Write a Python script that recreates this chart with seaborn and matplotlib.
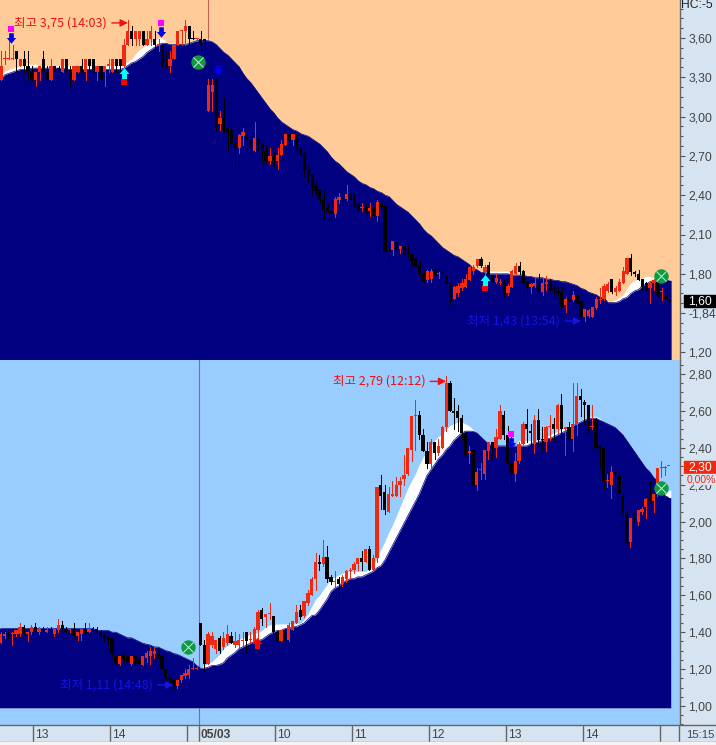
import matplotlib
matplotlib.use("Agg")
import matplotlib.pyplot as plt
from matplotlib.patches import Rectangle
from matplotlib.path import Path
from matplotlib.ticker import MultipleLocator, FixedLocator, FixedFormatter
from matplotlib.transforms import ScaledTranslation
import numpy as np
import pandas as pd
import seaborn as sns

# upper chart, 3 minute candles
up_open = [3.28,3.44,3.44,3.44,3.50,3.39,3.44,3.39,3.34,3.28,
    3.34,3.44,3.34,3.28,3.39,3.37,3.34,3.44,3.34,3.28,
    3.34,3.39,3.34,3.44,3.44,3.34,3.39,3.34,3.39,3.34,
    3.44,3.44,3.39,3.55,3.65,3.59,3.59,3.65,3.55,3.59,
    3.59,3.55,3.55,3.40,3.39,3.44,3.55,3.65,3.65,3.69,
    3.60,3.59,3.59,3.59,3.04,3.19,3.29,2.94,2.99,2.91,
    2.90,2.80,2.76,2.85,2.86,2.82,2.74,2.83,2.80,2.74,
    2.66,2.70,2.66,2.71,2.78,2.87,2.82,2.87,2.76,2.72,
    2.59,2.56,2.47,2.44,2.36,2.30,2.28,2.26,2.36,2.39,
    2.37,2.42,2.37,2.33,2.30,2.31,2.28,2.31,2.24,2.34,
    2.32,1.98,1.98,2.04,1.99,2.01,1.96,1.95,1.92,1.86,
    1.80,1.75,1.76,1.83,1.80,1.81,1.79,1.73,1.61,1.65,
    1.69,1.70,1.75,1.82,1.86,1.91,1.81,1.87,1.79,1.74,
    1.73,1.73,1.65,1.70,1.80,1.86,1.82,1.74,1.70,1.71,
    1.73,1.66,1.72,1.74,1.69,1.67,1.66,1.56,1.61,1.60,
    1.64,1.59,1.47,1.48,1.47,1.54,1.60,1.61,1.67,1.76,
    1.66,1.67,1.73,1.80,1.92,1.81,1.80,1.76,1.73,1.69,
    1.73,1.74,1.66,1.63,1.60]
up_high = [3.50,3.50,3.59,3.55,3.50,3.44,3.50,3.50,3.39,3.34,
    3.39,3.50,3.39,3.44,3.39,3.39,3.44,3.44,3.39,3.39,
    3.39,3.44,3.44,3.44,3.44,3.39,3.39,3.39,3.44,3.44,
    3.44,3.44,3.59,3.74,3.69,3.65,3.65,3.65,3.65,3.69,
    3.65,3.59,3.55,3.50,3.50,3.55,3.65,3.65,3.74,3.69,
    3.65,3.59,3.65,3.59,3.29,3.29,3.29,3.04,3.14,2.91,
    2.91,2.84,2.87,2.91,2.92,2.85,2.96,2.84,2.80,2.78,
    2.76,2.74,2.76,2.82,2.87,2.87,2.87,2.87,2.76,2.73,
    2.63,2.56,2.50,2.44,2.43,2.34,2.28,2.39,2.42,2.40,
    2.48,2.42,2.41,2.33,2.34,2.34,2.34,2.31,2.36,2.37,
    2.32,2.03,2.05,2.04,2.01,2.01,2.01,1.95,1.92,1.90,
    1.81,1.83,1.84,1.85,1.81,1.82,1.80,1.73,1.71,1.73,
    1.76,1.80,1.86,1.87,1.91,1.93,1.87,1.89,1.79,1.80,
    1.76,1.75,1.72,1.83,1.88,1.89,1.83,1.74,1.73,1.77,
    1.80,1.77,1.78,1.76,1.71,1.70,1.70,1.62,1.69,1.67,
    1.65,1.59,1.53,1.53,1.55,1.62,1.69,1.72,1.74,1.76,
    1.71,1.76,1.85,1.92,1.95,1.82,1.83,1.76,1.74,1.74,
    1.76,1.77,1.69,1.68,1.60]
up_low = [3.28,3.40,3.44,3.44,3.34,3.39,3.34,3.28,3.28,3.23,
    3.28,3.28,3.28,3.28,3.34,3.34,3.34,3.34,3.23,3.28,
    3.34,3.34,3.28,3.34,3.34,3.28,3.28,3.23,3.34,3.34,
    3.34,3.34,3.39,3.55,3.55,3.55,3.55,3.55,3.55,3.55,
    3.50,3.50,3.39,3.39,3.34,3.44,3.55,3.55,3.55,3.55,
    3.59,3.58,3.50,3.50,3.04,3.04,2.89,2.90,2.88,2.74,
    2.79,2.63,2.72,2.78,2.78,2.72,2.74,2.74,2.65,2.65,
    2.64,2.62,2.60,2.71,2.78,2.78,2.78,2.71,2.69,2.55,
    2.50,2.41,2.41,2.34,2.22,2.27,2.20,2.23,2.34,2.33,
    2.36,2.36,2.31,2.28,2.28,2.26,2.24,2.24,2.20,2.30,
    1.97,1.92,1.94,1.97,1.96,1.95,1.93,1.86,1.86,1.78,
    1.73,1.74,1.74,1.76,1.77,1.79,1.72,1.57,1.61,1.63,
    1.68,1.70,1.75,1.80,1.85,1.85,1.78,1.79,1.74,1.73,
    1.72,1.62,1.64,1.70,1.80,1.80,1.73,1.65,1.65,1.70,
    1.64,1.64,1.68,1.67,1.64,1.63,1.55,1.51,1.59,1.59,
    1.58,1.43,1.44,1.47,1.47,1.53,1.58,1.60,1.66,1.65,
    1.64,1.67,1.73,1.80,1.79,1.78,1.75,1.67,1.67,1.58,
    1.68,1.62,1.60,1.61,1.58]
up_close = [3.39,3.44,3.44,3.44,3.44,3.44,3.39,3.34,3.28,3.34,
    3.39,3.34,3.28,3.39,3.34,3.36,3.44,3.34,3.28,3.39,
    3.39,3.34,3.44,3.39,3.34,3.39,3.28,3.39,3.39,3.44,
    3.39,3.39,3.55,3.65,3.59,3.65,3.65,3.55,3.59,3.65,
    3.55,3.55,3.39,3.39,3.44,3.55,3.65,3.65,3.69,3.59,
    3.59,3.59,3.55,3.58,3.24,3.24,2.91,2.99,2.90,2.88,
    2.80,2.76,2.86,2.88,2.82,2.75,2.84,2.80,2.74,2.66,
    2.70,2.66,2.71,2.79,2.87,2.82,2.87,2.75,2.71,2.59,
    2.55,2.46,2.43,2.36,2.29,2.28,2.26,2.37,2.39,2.37,
    2.41,2.36,2.31,2.29,2.30,2.29,2.30,2.24,2.35,2.31,
    1.97,1.97,2.05,1.98,2.01,1.95,1.94,1.90,1.86,1.80,
    1.74,1.82,1.82,1.79,1.80,1.80,1.72,1.59,1.70,1.71,
    1.73,1.76,1.85,1.85,1.91,1.86,1.85,1.79,1.74,1.77,
    1.74,1.64,1.71,1.82,1.86,1.81,1.73,1.70,1.72,1.73,
    1.67,1.73,1.74,1.68,1.68,1.65,1.55,1.61,1.59,1.64,
    1.58,1.47,1.53,1.52,1.55,1.61,1.61,1.71,1.72,1.66,
    1.69,1.74,1.82,1.92,1.81,1.80,1.75,1.70,1.68,1.73,
    1.75,1.63,1.67,1.61,1.59]
up_navy = [3.29,3.32,3.33,3.34,3.35,3.36,3.36,3.36,3.37,3.37,
    3.37,3.37,3.37,3.37,3.37,3.37,3.37,3.36,3.36,3.36,
    3.36,3.36,3.36,3.36,3.36,3.36,3.36,3.36,3.36,3.36,
    3.36,3.36,3.37,3.39,3.41,3.42,3.44,3.46,3.49,3.51,
    3.53,3.55,3.56,3.56,3.55,3.55,3.55,3.55,3.55,3.56,
    3.57,3.58,3.58,3.58,3.58,3.57,3.55,3.52,3.49,3.47,
    3.44,3.41,3.38,3.33,3.29,3.26,3.22,3.18,3.14,3.10,
    3.06,3.03,2.99,2.96,2.94,2.92,2.90,2.89,2.87,2.86,
    2.85,2.83,2.81,2.79,2.76,2.73,2.69,2.66,2.64,2.61,
    2.58,2.56,2.54,2.51,2.49,2.48,2.46,2.45,2.43,2.42,
    2.40,2.39,2.36,2.33,2.31,2.29,2.27,2.24,2.21,2.18,
    2.14,2.11,2.09,2.06,2.03,2.00,1.98,1.96,1.94,1.93,
    1.91,1.89,1.87,1.84,1.83,1.81,1.81,1.80,1.80,1.80,
    1.80,1.80,1.80,1.79,1.79,1.79,1.79,1.78,1.78,1.77,
    1.77,1.77,1.76,1.76,1.75,1.75,1.74,1.74,1.73,1.72,
    1.71,1.69,1.68,1.66,1.65,1.64,1.62,1.62,1.58,1.58,
    1.58,1.59,1.61,1.62,1.65,1.67,1.68,1.71,1.72,1.74,
    1.75,1.75,1.75,1.75,1.75]
up_white = [3.31,3.35,3.36,3.37,3.38,3.39,3.39,3.40,3.40,3.40,
    3.39,3.39,3.39,3.39,3.39,3.39,3.39,3.39,3.39,3.39,
    3.39,3.39,3.39,3.39,3.39,3.39,3.39,3.39,3.39,3.39,
    3.39,3.39,3.41,3.42,3.44,3.48,3.51,3.53,3.55,3.57,
    3.58,3.60,3.60,3.57,3.56,3.56,3.55,3.55,3.56,3.57,
    3.58,3.59,3.59,3.59,3.59,3.57,3.55,3.52,3.49,3.47,
    3.44,3.41,3.38,3.33,3.29,3.26,3.22,3.18,3.14,3.10,
    3.06,3.03,2.99,2.96,2.94,2.92,2.90,2.89,2.87,2.86,
    2.85,2.83,2.81,2.79,2.76,2.73,2.69,2.66,2.64,2.61,
    2.58,2.56,2.54,2.51,2.49,2.48,2.46,2.45,2.43,2.42,
    2.40,2.39,2.36,2.33,2.31,2.29,2.27,2.24,2.21,2.18,
    2.14,2.11,2.09,2.06,2.03,2.00,1.98,1.96,1.94,1.93,
    1.91,1.89,1.87,1.84,1.83,1.81,1.81,1.82,1.82,1.82,
    1.82,1.82,1.82,1.80,1.79,1.79,1.79,1.78,1.78,1.77,
    1.77,1.77,1.76,1.76,1.75,1.75,1.74,1.74,1.73,1.72,
    1.71,1.69,1.68,1.66,1.65,1.64,1.62,1.62,1.58,1.59,
    1.60,1.62,1.64,1.69,1.73,1.75,1.76,1.77,1.78,1.78,
    1.77,1.75,1.75,1.75,1.75]

# lower chart
lo_open = [1.34,1.38,1.39,1.39,1.39,1.39,1.43,1.39,1.40,1.43,
    1.40,1.42,1.40,1.42,1.39,1.41,1.44,1.42,1.41,1.42,
    1.38,1.39,1.42,1.40,1.42,1.42,1.40,1.38,1.37,1.37,
    1.27,1.23,1.27,1.27,1.23,1.27,1.25,1.22,1.26,1.27,
    1.28,1.29,1.27,1.20,1.15,1.14,1.11,1.14,1.16,1.17,
    1.20,1.20,1.45,1.33,1.23,1.33,1.31,1.37,1.32,1.34,
    1.38,1.33,1.33,1.35,1.40,1.36,1.35,1.41,1.52,1.48,
    1.50,1.49,1.40,1.35,1.41,1.36,1.41,1.45,1.52,1.49,
    1.56,1.60,1.69,1.78,1.77,1.81,1.70,1.67,1.69,1.66,
    1.69,1.73,1.74,1.77,1.80,1.78,1.85,1.74,1.80,2.20,
    2.16,2.05,2.14,2.14,2.20,2.23,2.26,2.39,2.57,2.58,
    2.47,2.38,2.31,2.43,2.37,2.40,2.51,2.75,2.60,2.60,
    2.56,2.48,2.37,2.39,2.20,2.28,2.26,2.38,2.43,2.40,
    2.45,2.58,2.47,2.32,2.26,2.33,2.42,2.53,2.49,2.42,
    2.55,2.45,2.43,2.51,2.53,2.50,2.63,2.50,2.51,2.45,
    2.53,2.68,2.65,2.63,2.51,2.55,2.41,2.40,2.22,2.20,
    2.27,2.25,2.14,2.05,1.89,2.02,2.00,2.05,2.08,2.12,
    2.11,2.15,2.29,2.29,2.30]
lo_high = [1.40,1.40,1.40,1.40,1.41,1.45,1.44,1.40,1.44,1.45,
    1.43,1.43,1.43,1.43,1.42,1.47,1.46,1.43,1.42,1.45,
    1.40,1.42,1.45,1.45,1.43,1.43,1.41,1.39,1.38,1.37,
    1.27,1.27,1.28,1.27,1.27,1.27,1.26,1.27,1.30,1.32,
    1.32,1.31,1.27,1.20,1.15,1.14,1.14,1.17,1.20,1.22,
    1.26,1.21,1.45,1.36,1.40,1.40,1.36,1.38,1.40,1.44,
    1.40,1.40,1.39,1.40,1.40,1.40,1.43,1.52,1.53,1.50,
    1.56,1.49,1.40,1.41,1.42,1.45,1.46,1.55,1.55,1.57,
    1.63,1.70,1.83,1.82,1.90,1.87,1.71,1.73,1.70,1.71,
    1.74,1.75,1.78,1.80,1.84,1.85,1.87,1.82,2.19,2.25,
    2.20,2.19,2.22,2.24,2.24,2.36,2.40,2.57,2.66,2.60,
    2.50,2.43,2.45,2.43,2.45,2.52,2.79,2.76,2.67,2.63,
    2.58,2.48,2.41,2.39,2.29,2.32,2.39,2.43,2.43,2.50,
    2.63,2.60,2.52,2.46,2.37,2.43,2.54,2.61,2.53,2.58,
    2.61,2.51,2.52,2.58,2.56,2.64,2.69,2.51,2.54,2.75,
    2.75,2.72,2.66,2.63,2.63,2.56,2.41,2.40,2.26,2.30,
    2.27,2.27,2.15,2.05,2.02,2.04,2.06,2.08,2.13,2.22,
    2.15,2.29,2.33,2.30,2.30]
lo_low = [1.34,1.37,1.37,1.33,1.38,1.38,1.39,1.35,1.39,1.40,
    1.39,1.40,1.40,1.40,1.38,1.40,1.41,1.40,1.40,1.38,
    1.36,1.36,1.39,1.40,1.41,1.40,1.37,1.35,1.33,1.27,
    1.23,1.22,1.24,1.22,1.22,1.22,1.20,1.22,1.24,1.23,
    1.26,1.26,1.20,1.13,1.13,1.09,1.10,1.13,1.15,1.15,
    1.20,1.20,1.33,1.19,1.23,1.32,1.29,1.29,1.31,1.33,
    1.34,1.32,1.32,1.33,1.29,1.34,1.35,1.35,1.44,1.43,
    1.47,1.40,1.34,1.35,1.35,1.35,1.41,1.45,1.47,1.48,
    1.55,1.60,1.63,1.74,1.76,1.67,1.66,1.65,1.59,1.65,
    1.67,1.69,1.72,1.74,1.74,1.78,1.74,1.74,1.78,2.07,
    2.04,2.05,2.14,2.14,2.14,2.20,2.25,2.33,2.39,2.45,
    2.38,2.29,2.29,2.34,2.36,2.40,2.49,2.60,2.50,2.49,
    2.44,2.34,2.32,2.20,2.17,2.23,2.23,2.34,2.34,2.35,
    2.45,2.45,2.31,2.21,2.22,2.32,2.42,2.43,2.40,2.37,
    2.42,2.38,2.38,2.44,2.44,2.48,2.48,2.36,2.40,2.38,
    2.47,2.57,2.53,2.48,2.50,2.40,2.29,2.18,2.19,2.13,
    2.20,2.13,1.98,1.87,1.86,2.00,1.98,2.04,2.02,2.10,
    2.05,2.14,2.24,2.25,2.30]
lo_close = [1.39,1.39,1.38,1.39,1.41,1.43,1.39,1.40,1.43,1.40,
    1.42,1.41,1.41,1.41,1.42,1.44,1.42,1.40,1.42,1.38,
    1.40,1.42,1.39,1.42,1.41,1.40,1.38,1.36,1.36,1.28,
    1.23,1.27,1.25,1.24,1.27,1.23,1.23,1.27,1.29,1.30,
    1.30,1.27,1.20,1.15,1.14,1.11,1.14,1.17,1.18,1.20,
    1.20,1.20,1.33,1.23,1.39,1.38,1.36,1.30,1.37,1.39,
    1.34,1.35,1.36,1.36,1.35,1.36,1.42,1.51,1.47,1.50,
    1.50,1.40,1.35,1.41,1.35,1.44,1.46,1.51,1.48,1.57,
    1.61,1.69,1.78,1.77,1.81,1.69,1.67,1.68,1.66,1.70,
    1.73,1.74,1.77,1.80,1.78,1.85,1.74,1.80,2.19,2.14,
    2.06,2.15,2.15,2.20,2.22,2.25,2.40,2.57,2.58,2.47,
    2.38,2.31,2.43,2.37,2.41,2.51,2.75,2.60,2.59,2.56,
    2.48,2.36,2.38,2.20,2.27,2.28,2.39,2.43,2.40,2.46,
    2.60,2.47,2.32,2.26,2.33,2.42,2.53,2.50,2.48,2.55,
    2.44,2.44,2.51,2.52,2.50,2.63,2.50,2.51,2.45,2.53,
    2.68,2.66,2.63,2.53,2.52,2.40,2.40,2.22,2.22,2.27,
    2.26,2.15,2.04,1.88,2.02,2.01,2.06,2.07,2.12,2.11,
    2.15,2.29,2.29,2.29,2.30]
lo_navy = [1.42,1.42,1.42,1.42,1.42,1.42,1.42,1.42,1.42,1.42,
    1.42,1.42,1.42,1.42,1.42,1.42,1.42,1.42,1.42,1.42,
    1.42,1.42,1.42,1.42,1.42,1.41,1.41,1.41,1.41,1.40,
    1.40,1.39,1.38,1.37,1.37,1.36,1.35,1.34,1.335,1.33,
    1.32,1.32,1.31,1.30,1.295,1.285,1.28,1.27,1.26,1.25,
    1.24,1.22,1.205,1.205,1.21,1.22,1.22,1.225,1.235,1.26,
    1.275,1.29,1.31,1.32,1.33,1.34,1.35,1.355,1.36,1.375,
    1.39,1.40,1.41,1.41,1.42,1.42,1.43,1.43,1.44,1.45,
    1.47,1.49,1.494,1.52,1.55,1.58,1.62,1.64,1.65,1.67,
    1.68,1.69,1.69,1.70,1.70,1.71,1.72,1.73,1.75,1.76,
    1.79,1.83,1.87,1.91,1.95,1.99,2.03,2.07,2.11,2.15,
    2.20,2.25,2.28,2.31,2.34,2.36,2.39,2.41,2.44,2.46,
    2.48,2.49,2.49,2.49,2.48,2.46,2.44,2.42,2.41,2.41,
    2.41,2.41,2.41,2.41,2.41,2.41,2.41,2.41,2.42,2.43,
    2.43,2.44,2.45,2.45,2.46,2.47,2.48,2.49,2.50,2.52,
    2.53,2.54,2.55,2.56,2.56,2.56,2.55,2.54,2.53,2.52,
    2.51,2.49,2.47,2.44,2.41,2.38,2.35,2.32,2.29,2.27,
    2.24,2.22,2.18,2.14,2.13]
lo_white = [1.42,1.42,1.42,1.42,1.42,1.42,1.42,1.42,1.42,1.42,
    1.42,1.42,1.42,1.42,1.42,1.42,1.42,1.42,1.42,1.42,
    1.42,1.42,1.42,1.42,1.42,1.41,1.41,1.41,1.41,1.40,
    1.40,1.39,1.38,1.37,1.37,1.36,1.35,1.34,1.335,1.33,
    1.32,1.32,1.31,1.30,1.295,1.285,1.28,1.27,1.26,1.25,
    1.24,1.22,1.205,1.22,1.23,1.24,1.26,1.28,1.31,1.33,
    1.34,1.35,1.36,1.37,1.38,1.39,1.39,1.40,1.41,1.43,
    1.44,1.44,1.445,1.445,1.445,1.445,1.445,1.445,1.45,1.47,
    1.50,1.54,1.58,1.60,1.63,1.66,1.69,1.70,1.71,1.72,
    1.73,1.73,1.73,1.73,1.73,1.73,1.74,1.76,1.80,1.85,
    1.89,1.94,1.98,2.03,2.08,2.13,2.18,2.22,2.26,2.31,
    2.35,2.38,2.41,2.44,2.46,2.48,2.50,2.52,2.53,2.54,
    2.54,2.53,2.52,2.50,2.48,2.46,2.44,2.42,2.41,2.41,
    2.41,2.41,2.41,2.41,2.41,2.44,2.44,2.44,2.44,2.44,
    2.44,2.45,2.46,2.47,2.48,2.49,2.50,2.51,2.52,2.53,
    2.54,2.55,2.56,2.57,2.57,2.57,2.56,2.54,2.53,2.52,
    2.51,2.49,2.47,2.44,2.41,2.38,2.35,2.32,2.29,2.27,
    2.24,2.22,2.18,2.16,2.17]

up_ticks = [1.20, 1.50, 1.80, 2.10, 2.40, 2.70, 3.00, 3.30, 3.60]
up_tick_labels = ["1,20", "-1,84", "1,80", "2,10", "2,40", "2,70", "3,00", "3,30", "3,60"]
lo_ticks = [1.00, 1.20, 1.40, 1.60, 1.80, 2.00, 2.20, 2.40, 2.60, 2.80]
lo_tick_labels = ["1,00", "1,20", "1,40", "1,60", "1,80", "2,00", "2,20", "2,40", "2,60", "2,80"]

# time strip, candle positions of the separators
time_pos = [8.4, 28.5, 48.5, 51.6, 71.4, 91.5, 111.5, 131.6, 151.6, 171.7]
time_labels = ["13", "14", "", "05/03", "10", "11", "12", "13", "14", ""]

ORANGE = "#FFCC99"
SKY = "#99CCFF"
NAVY = "#000080"
RED = "#F02810"
STRIP = "#D6E3F0"
W, H = 716, 745
STEP = 3.84

sns.set_style("white")
plt.rcParams["font.family"] = ["Liberation Sans", "DejaVu Sans"]
KR = ["Noto Sans CJK KR", "DejaVu Sans"]

fig = plt.figure(figsize=(W / 100, H / 100), dpi=100, facecolor=STRIP)


def px_axes(x0, y0, x1, y1):
    return fig.add_axes([x0 / W, 1 - y1 / H, (x1 - x0) / W, (y1 - y0) / H])


sell_mark = Path([(-0.45, 1), (0.45, 1), (0.45, 0.1), (0.9, 0.1), (0, -1), (-0.9, 0.1), (-0.45, 0.1), (-0.45, 1)], closed=True)
buy_mark = Path([(-0.45, -1), (0.45, -1), (0.45, -0.1), (0.9, -0.1), (0, 1), (-0.9, -0.1), (-0.45, -0.1), (-0.45, -1)], closed=True)


def draw_panel(ax, o, h, l, c, navy, white, floor, bg, min_body):
    o, h, l, c = map(np.array, (o, h, l, c))
    df = pd.DataFrame({"i": np.arange(len(o)), "navy": navy, "white": white})
    ax.set_facecolor(bg)
    # area runs half a candle past both ends
    xs = np.r_[-0.6, df["i"], len(o) - 0.5]
    ax.fill_between(xs, floor, np.r_[white[0], white, white[-1]], color="white", lw=0, zorder=2, antialiased=False)
    ax.fill_between(xs, floor, np.r_[navy[0], navy, navy[-1]], color=NAVY, lw=0, zorder=3, antialiased=False)
    sns.lineplot(data=df, x="i", y="navy", color=NAVY, lw=0.5, ax=ax, zorder=3, errorbar=None)
    colors = np.where(c >= o, RED, "black")
    ax.vlines(df["i"], l, h, colors=colors, lw=0.7, zorder=4, antialiased=False)
    ax.bar(df["i"], np.maximum(np.abs(c - o), min_body), bottom=np.minimum(o, c), width=0.85,
           color=colors, lw=0, zorder=4)


def draw_signals(ax, sell, buy, cross):
    for i, p, flag in sell:
        ax.plot(i, p, marker=sell_mark, ms=7.5, color="#0000E6", mew=0, zorder=6)
        if flag:
            ax.plot(i, p, marker="s", ms=4.4, color="#FF00FF", mew=0, zorder=6,
                    transform=ax.transData + ScaledTranslation(0, 9 / 100, fig.dpi_scale_trans))
    for i, p in buy:
        ax.plot(i, p, marker="s", ms=4.0, color="#FF0000", mew=0, zorder=6,
                transform=ax.transData + ScaledTranslation(0, -8.5 / 100, fig.dpi_scale_trans))
        ax.plot(i, p, marker=buy_mark, ms=8, color="#00FFFF", mew=0, zorder=6)
    for i, p in cross:
        ax.plot(i, p, marker="o", ms=10.4, color="#109848", mew=0, zorder=6)
        ax.plot(i, p, marker="x", ms=6.5, color="#C8F0C8", mew=0.7, zorder=7)


def draw_note(ax, text, i, p, color, gap=16):
    ax.annotate("", xy=(i, p), xytext=(-gap, 0), textcoords="offset pixels", zorder=8,
                arrowprops=dict(arrowstyle="-|>", color=color, lw=1, shrinkA=0, shrinkB=0, mutation_scale=11))
    ax.annotate(text, xy=(i, p), xytext=(-gap - 5, 0), textcoords="offset pixels", ha="right", va="center",
                color=color, fontsize=9, family=KR, zorder=8)


def finish_axis(ax, ticks, labels, minor):
    ax.yaxis.tick_right()
    ax.yaxis.set_major_locator(FixedLocator(ticks))
    ax.yaxis.set_major_formatter(FixedFormatter(labels))
    ax.yaxis.set_minor_locator(MultipleLocator(minor))
    ax.tick_params(axis="y", which="major", right=True, length=3.8, width=0.8, color="#555555",
                   labelcolor="#444444", labelsize=8.7, pad=2.5)
    ax.tick_params(axis="y", which="minor", right=True, length=2.2, width=0.8, color="#555555")
    ax.tick_params(axis="x", bottom=False, labelbottom=False)
    ax.set_xlabel("")
    ax.set_ylabel("")
    for side in ["top", "left", "bottom"]:
        ax.spines[side].set_visible(False)
    ax.spines["right"].set_color("#666666")
    ax.spines["right"].set_linewidth(1)


# upper panel
ax_up = px_axes(0, 0, 679.5, 360)
ax_up.set_xlim(-1.1 / STEP, (679.5 - 1.1) / STEP)
ax_up.set_ylim(3.6 - 322 / 131, 3.6 + 38 / 131)
ax_up.axvline(54, color="#C06050", lw=0.8, zorder=1)
draw_panel(ax_up, up_open, up_high, up_low, up_close, up_navy, up_white, 1.0, ORANGE, 0.008)
draw_signals(ax_up,
             sell=[(2.6, 3.60, True), (41.6, 3.645, True), (56.5, 3.356, False)],
             buy=[(32.1, 3.33), (126, 1.755)],
             cross=[(51.4, 3.42), (171.9, 1.78)])
draw_note(ax_up, "최고 3,75 (14:03)", 33, 3.715, "#F01010")
draw_note(ax_up, "최저 1,43 (13:54)", 151, 1.44, "#1414E6")
finish_axis(ax_up, up_ticks, up_tick_labels, 0.075)

# lower panel
ax_lo = px_axes(0, 360, 679.5, 725)
ax_lo.set_xlim(-0.7 / STEP, (679.5 - 0.7) / STEP)
ax_lo.set_ylim(1.0 - 19 / 184.5, 2.8 + 14 / 184.5)
ax_lo.axvline(51.6, color="#A86060", lw=0.8, zorder=1)
draw_panel(ax_lo, lo_open, lo_high, lo_low, lo_close, lo_navy, lo_white, 0.99, SKY, 0.0055)
draw_signals(ax_lo,
             sell=[(132.9, 2.426, True)],
             buy=[],
             cross=[(48.7, 1.32), (171.9, 2.18)])
ax_lo.plot(66.7, 1.339, marker=buy_mark, ms=8, color="#FF0000", mew=0, zorder=6)
draw_note(ax_lo, "최고 2,79 (12:12)", 116, 2.76, "#F01010")
draw_note(ax_lo, "최저 1,11 (14:48)", 45, 1.114, "#1414E6")
finish_axis(ax_lo, lo_ticks, lo_tick_labels, 0.05)

# time strip
ax_t = px_axes(0, 725, W, 742)
ax_t.set_facecolor(STRIP)
ax_t.set_xlim(-0.7 / STEP, (W - 0.7) / STEP)
ax_t.set_ylim(0, 1)
ax_t.set_xticks([])
ax_t.set_yticks([])
ax_t.vlines(time_pos, 0, 1, color="#666666", lw=1)
ax_t.axvline((679 - 0.7) / STEP, color="#666666", lw=1)
for pos, lab in zip(time_pos, time_labels):
    ax_t.text(pos + 0.5, 0.42, lab, va="center", ha="left", fontsize=8.7, color="#444444",
              fontweight="bold" if "/" in lab else "normal")
ax_t.text((686 - 0.7) / STEP, 0.42, "15:15", va="center", ha="left", fontsize=8.2, color="#444444")
for side in ax_t.spines:
    ax_t.spines[side].set_color("#666666")
    ax_t.spines[side].set_linewidth(1)
ax_t.spines["left"].set_visible(False)
ax_t.spines["right"].set_visible(False)

# price flags on the scale
fig.patches.append(Rectangle((684 / W, 1 - 307 / H), 32 / W, 12 / H, transform=fig.transFigure, color="black", zorder=5))
fig.patches.append(Rectangle((684 / W, 1 - 474 / H), 32 / W, 13 / H, transform=fig.transFigure, color=RED, zorder=5))
fig.patches.append(Rectangle((684 / W, 1 - 484.5 / H), 32 / W, 10.5 / H, transform=fig.transFigure, color=STRIP, zorder=5))
fig.text(688 / W, 1 - 301.5 / H, "1,60", color="white", fontsize=8.7, va="center", zorder=6)
fig.text(688 / W, 1 - 467.5 / H, "2,30", color="white", fontsize=8.7, va="center", zorder=6)
fig.text(687 / W, 1 - 479.5 / H, "0,00%", color=RED, fontsize=7.5, va="center", zorder=6)
fig.text(681 / W, 1 - 4.5 / H, "HC:-5", color="#222222", fontsize=8.7, va="center", zorder=6)
fig.patches.append(Rectangle((0, 0), 1, 3 / H, transform=fig.transFigure, color="#F4F4F4", zorder=5))

fig.savefig("out.png", dpi=100, facecolor=fig.get_facecolor())
